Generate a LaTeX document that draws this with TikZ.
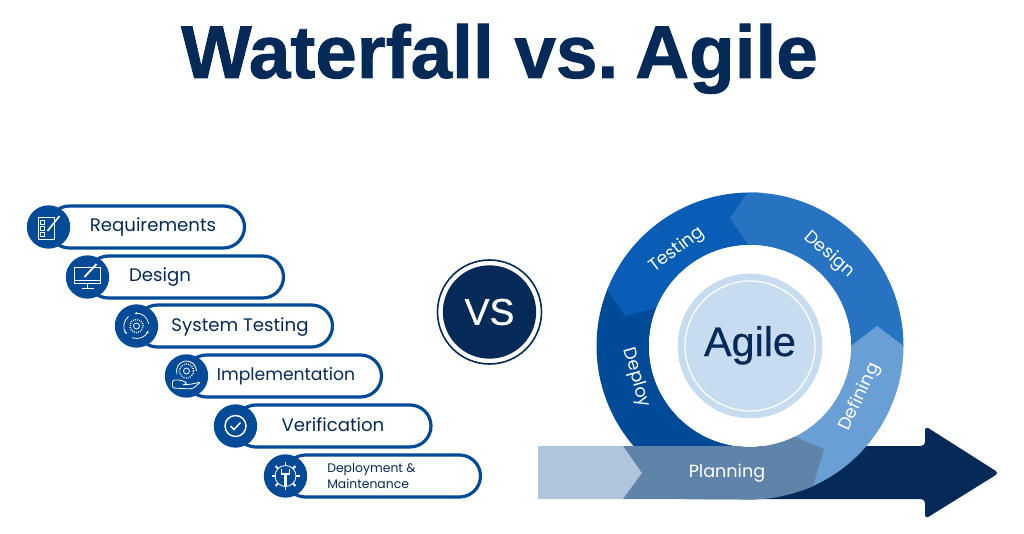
\documentclass[tikz,border=0pt]{standalone}
\usepackage{fontspec}
\setmainfont{Poppins}
\newfontfamily\headfont[BoldFeatures={FakeBold=1.2}]{Liberation Sans}
\newfontfamily\corefont[FakeBold=0.6]{Liberation Sans}
\usepackage{tikz}
\usetikzlibrary{arrows.meta, positioning, shapes.misc}

\definecolor{navy}{HTML}{062A57}
\definecolor{pillblue}{HTML}{004A98}
\definecolor{testblue}{HTML}{0A5DB5}
\definecolor{designblue}{HTML}{2872C2}
\definecolor{defineblue}{HTML}{6A9FD5}
\definecolor{planblue}{HTML}{5F83A9}
\definecolor{paleblue}{HTML}{AEC5DC}
\definecolor{coreblue}{HTML}{C8DCF0}

\tikzset{
  pill/.style={draw=pillblue, line width=2.4pt, fill=white, rounded rectangle, minimum height=31.5pt, inner sep=0pt},
  pilltext/.style={text=navy, font=\fontsize{13.6}{15}\selectfont, inner sep=0pt},
  iconball/.style={circle, fill=pillblue, minimum size=32.5pt, inner sep=0pt},
  icon/.style={draw=white, line width=0.6pt, fill=none},
  ringtext/.style={text=white, font=\fontsize{13.2}{15}\selectfont, inner sep=0pt}
}

\begin{document}
\begin{tikzpicture}[x=0.75pt, y=0.75pt]
\useasboundingbox (0,0) rectangle (1024,533);

% Title
\node (title) at (499.5,455) [anchor=base, text=navy, font=\fontsize{56}{60}\headfont\bfseries, inner sep=0pt] {Waterfall vs.\hspace{-8pt} Agile};

% Requirements
\node (reqpill) at (146.5,306) [pill, minimum width=147pt] {};
\node (reqball) at (48.5,306) [iconball] {};
\node (reqtext) at (153,306.5) [pilltext] {Requirements};
\begin{scope}[shift={(reqball.center)}]
\draw[icon] (-10,-12) rectangle (6,10);
\foreach \y in {5,-1,-7} \draw[icon] (-8,\y-2) rectangle (-4,\y+2);
\draw[icon, line width=1.2pt] (-1,-4) -- (11,11);
\end{scope}

% Design
\node (despill) at (185.5,256) [pill, minimum width=147pt] {};
\node (desball) at (87.5,256) [iconball] {};
\node (destext) at (160,256) [pilltext] {Design};
\begin{scope}[shift={(desball.center)}]
\draw[icon] (-13,-6) rectangle (13,10);
\draw[icon] (-13,-3) -- (13,-3);
\draw[icon] (0,-6) -- (0,-11) (-6,-11) -- (6,-11);
\draw[icon, line width=1.4pt] (-3,0) -- (9,13);
\end{scope}

% System Testing
\node (syspill) at (234.5,207) [pill, minimum width=147pt] {};
\node (sysball) at (136.5,207) [iconball] {};
\node (systext) at (240,206) [pilltext] {System Testing};
\begin{scope}[shift={(sysball.center)}]
\draw[icon] (0,0) circle (3);
\draw[icon, densely dotted, line width=1.2pt] (0,0) circle (6.5);
\foreach \a in {0,120,240} \draw[icon, -{Stealth[length=2.5pt]}] (\a+10:12.5) arc (\a+10:\a+100:12.5);
\end{scope}

% Implementation
\node (implpill) at (283.5,157) [pill, minimum width=147pt] {};
\node (implball) at (186.5,157) [iconball] {};
\node (impltext) at (286,157) [pilltext, font=\fontsize{12.9}{15}\selectfont] {Implementation};
\begin{scope}[shift={(implball.center)}]
\draw[icon] (0,5) circle (3);
\draw[icon, densely dotted, line width=1.2pt] (0,5) circle (7);
\draw[icon] (10,5) arc (0:200:10);
\draw[icon, rounded corners=1.5pt] (-14,-12) -- (-14,-4) -- (-6,-4) -- (1,-7) -- (-4,-9) -- (6,-8) -- (14,-6) -- (6,-13) -- cycle;
\end{scope}

% Verification
\node (verpill) at (333,107) [pill, minimum width=147pt] {};
\node (verball) at (235.5,107) [iconball] {};
\node (vertext) at (333,108) [pilltext] {Verification};
\begin{scope}[shift={(verball.center)}]
\draw[icon, line width=1.1pt] (0,0) circle (10.5);
\draw[icon, line width=1.1pt] (-5,0) -- (-1.5,-3.5) -- (5,3.5);
\end{scope}

% Deployment
\node (deppill) at (382.5,57) [pill, minimum width=147pt] {};
\node (depball) at (285.5,57) [iconball] {};
\node (deptext) at (327,57) [pilltext, anchor=west, align=left, font=\fontsize{9.3}{12.4}\selectfont] {Deployment \&\\Maintenance};
\begin{scope}[shift={(depball.center)}]
\foreach \a in {0,45,...,315} \draw[icon, line width=1.4pt] (\a:10) -- (\a:14);
\draw[icon] (0,0) circle (10.5);
\draw[icon, line width=1.6pt] (0,-11) -- (0,3);
\draw[icon, line width=0.9pt] (-4,7) -- (-4,2) -- (4,2) -- (4,7);
\end{scope}

% VS
\node (vsring) at (489.5,221) [circle, draw=navy, line width=1.2pt, fill=white, minimum size=78pt, inner sep=0pt] {};
\node (vs) at (vsring.center) [circle, fill=navy, minimum size=70pt, inner sep=0pt, text=white, font=\fontsize{28}{30}\corefont] {VS};

% Arrow
\fill[navy, rounded corners=3pt] (700,87) -- (925,87) -- (925,107) -- (999,60) -- (925,14) -- (925,34) -- (700,34) -- cycle;

% Ring
\begin{scope}[shift={(750,187)}]
\fill[pillblue] (158:153.5) arc (158:272:153.5) -- (272:101) arc (272:158:101) -- cycle;
\fill[defineblue] (101,0) -- (127,20) -- (153.5,0) arc (0:-70:153.5) -- (-70:101) arc (-70:0:101) -- cycle;
\fill[testblue] (158.6:153.5) arc (158.6:85:153.5) -- (85:101) arc (85:158:101) -- (-125,30) -- cycle;
\fill[designblue] (91:153.5) arc (91:0:153.5) -- (127,20) -- (101,0) arc (0:91:101) -- (-20,128) -- cycle;
\fill[white] (0,0) circle (101);
\end{scope}

% Agile
\node (corering) at (750,187) [circle, fill=coreblue, minimum size=108.5pt, inner sep=0pt] {};
\node (agilering) at (corering.center) [circle, draw=white, line width=0.9pt, minimum size=97.5pt, inner sep=0pt] {};
\node (agile) at (750,177) [anchor=base, text=navy, inner sep=0pt, font=\fontsize{31}{33}\corefont] {Agile};

% Planning
\fill[paleblue] (538,87) -- (623,87) -- (642,60) -- (623,34) -- (538,34) -- cycle;
\fill[planblue] (623,87) -- (736,87) arc (262:296:101) -- (824,84) -- (813,47) arc (-65.8:-90:153.5) -- (623,34) -- (642,60) -- cycle;
\node (planning) at (727,60) [text=white, inner sep=0pt, font=\fontsize{13.2}{15}\selectfont] {Planning};

% Ring labels
\node (testing) at (677,283) [ringtext, rotate=37] {Testing};
\node (design) at (829,278) [ringtext, rotate=-41] {Design};
\node (deploy) at (636,155) [ringtext, rotate=-74] {Deploy};
\node (defining) at (860,136) [ringtext, rotate=65] {Defining};
\end{tikzpicture}
\end{document}
